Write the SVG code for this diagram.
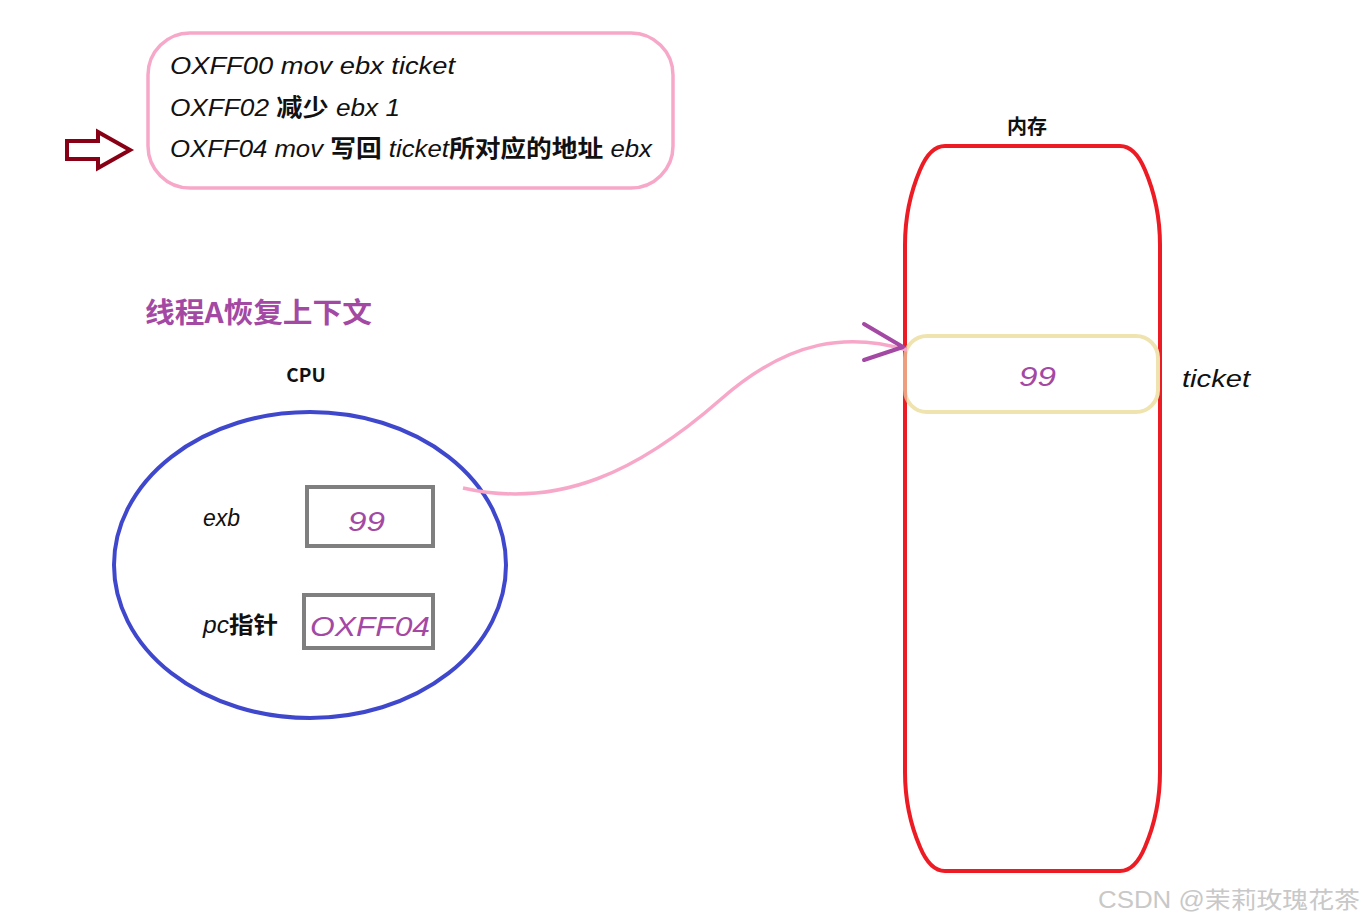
<svg xmlns="http://www.w3.org/2000/svg" width="1363" height="923" viewBox="0 0 1363 923">
<style>
.hand{font-family:"Liberation Sans","Noto Sans CJK SC",sans-serif;font-style:italic;fill:#111}
.up{font-family:"Noto Sans CJK SC",sans-serif;font-style:normal;font-weight:bold}
.cjk{font-family:"Noto Sans CJK SC",sans-serif;font-weight:bold}
.val{font-family:"Liberation Sans","Noto Sans CJK SC",sans-serif;font-style:italic;fill:#A349A4}
.reg{fill:#fff;stroke:#7F7F7F;stroke-width:4}
</style>
<rect width="1363" height="923" fill="#fff"/>
<g id="code">
<rect x="148" y="33" width="525" height="155" rx="42" ry="42" fill="#fff" stroke="#F7A8C8" stroke-width="3.5"/>
<text class="hand" x="170" y="74" font-size="24" textLength="285" lengthAdjust="spacingAndGlyphs">OXFF00 mov ebx ticket</text>
<text class="hand" x="170" y="116" font-size="24" textLength="230" lengthAdjust="spacingAndGlyphs">OXFF02 <tspan class="up">减少</tspan> ebx 1</text>
<text class="hand" x="170" y="157" font-size="24" textLength="482" lengthAdjust="spacingAndGlyphs">OXFF04 mov <tspan class="up">写回</tspan> ticket<tspan class="up">所对应的地址</tspan> ebx</text>
</g>
<g id="pointer-arrow">
<path d="M67 141 H98 V132 L130 150 L98 168 V159 H67 Z" fill="#fff" stroke="#880015" stroke-width="4" stroke-linejoin="miter"/>
</g>
<g id="title">
<text class="cjk" x="145" y="323" font-size="28" fill="#A349A4" textLength="227" lengthAdjust="spacingAndGlyphs">线程A恢复上下文</text>
</g>
<g id="cpu">
<text x="306" y="382" font-family="Noto Sans CJK SC,sans-serif" font-weight="bold" font-size="19" text-anchor="middle" fill="#111">CPU</text>
<ellipse cx="310" cy="565" rx="196" ry="153" fill="none" stroke="#3F48CC" stroke-width="4"/>
<text class="hand" x="203" y="526" font-size="23">exb</text>
<rect class="reg" x="307" y="487" width="126" height="59"/>
<text class="val" x="348" y="531" font-size="28" textLength="37" lengthAdjust="spacingAndGlyphs">99</text>
<text class="hand" x="203" y="633" font-size="23" textLength="75" lengthAdjust="spacingAndGlyphs">pc<tspan class="up">指针</tspan></text>
<rect class="reg" x="304" y="595" width="129" height="53"/>
<text class="val" x="310" y="636" font-size="28" textLength="120" lengthAdjust="spacingAndGlyphs">OXFF04</text>
</g>
<g id="memory">
<text x="1027" y="134" font-family="Noto Sans CJK SC,sans-serif" font-weight="bold" font-size="20" text-anchor="middle" fill="#111">内存</text>
<path d="M945 146 H1120 Q1135 146 1145 170 Q1160 205 1160 245 V772 Q1160 812 1145 847 Q1135 871 1120 871 H945 Q930 871 920 847 Q905 812 905 772 V245 Q905 205 920 170 Q930 146 945 146 Z" fill="none" stroke="#ED1C24" stroke-width="4"/>
</g>
<g id="ticket">
<rect x="905" y="336" width="253" height="76" rx="22" ry="22" fill="#fff" stroke="#EFE4B0" stroke-width="4"/>
<path d="M905 336 V412" stroke="#ED1C24" stroke-width="4" opacity="0.35"/>
<text class="val" x="1019" y="386" font-size="28" textLength="37" lengthAdjust="spacingAndGlyphs">99</text>
<text class="hand" x="1182" y="387" font-size="24" textLength="68" lengthAdjust="spacingAndGlyphs">ticket</text>
</g>
<g id="connectors">
<path d="M463 488 C560 510 640 470 720 400 C790 338 850 333 907 350" fill="none" stroke="#F7A8C8" stroke-width="3.5"/>
<path d="M864 324 L903 347 L864 360" fill="none" stroke="#A349A4" stroke-width="4" stroke-linecap="round" stroke-linejoin="round"/>
</g>
<text x="1098" y="908" font-family="Liberation Sans,Noto Sans CJK SC,sans-serif" font-size="23" fill="#c8c8c8" textLength="262" lengthAdjust="spacingAndGlyphs">CSDN @茉莉玫瑰花茶</text>
</svg>
